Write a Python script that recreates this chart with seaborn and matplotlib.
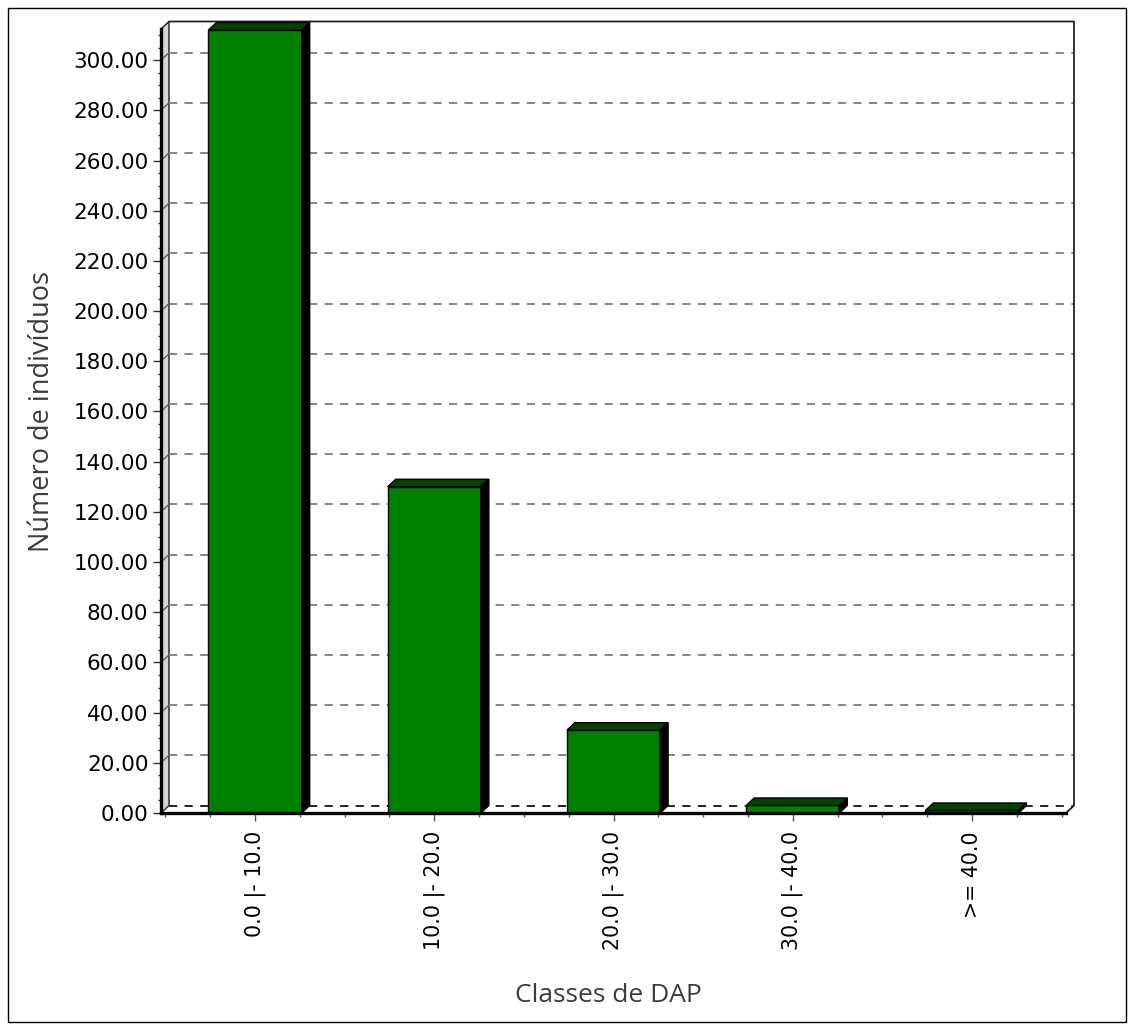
import numpy as np
import pandas as pd
import seaborn as sns
import matplotlib.pyplot as plt
from matplotlib.patches import Polygon, Rectangle
from matplotlib.lines import Line2D
from matplotlib.ticker import MultipleLocator, FixedLocator

# Diameter classes (DAP) and number of trees in each
classes = ["0.0 |- 10.0", "10.0 |- 20.0", "20.0 |- 30.0", "30.0 |- 40.0", ">= 40.0"]
individuos = [312, 130, 33, 3, 1]
y_ticks = list(range(0, 301, 20))
y_tick_labels = [f"{v:.2f}" for v in y_ticks]

sns.set_theme(style="white")
plt.rcParams["font.family"] = ["DejaVu Sans"]

W, H = 1134, 1030
fig = plt.figure(figsize=(W / 100, H / 100), dpi=100)
fig.patch.set_facecolor("white")

# front plane of the plot box, in pixels
left_px, right_px, top_px, bottom_px = 161, 1066, 29, 813
ax = fig.add_axes([left_px / W, (H - bottom_px) / H,
                   (right_px - left_px) / W, (bottom_px - top_px) / H])
ax.set_facecolor("none")

df = pd.DataFrame({"classe": classes, "n": individuos})
sns.barplot(data=df, x="classe", y="n", color="#008000", saturation=1,
            width=0.52, edgecolor="black", linewidth=1.0, ax=ax, zorder=6)
bars = list(ax.patches)

ymax = 312.4
xlo, xhi = -0.525, 4.525
ax.set_xlim(xlo, xhi)
ax.set_ylim(0, ymax)

# depth of the pseudo-3D box, in pixels
DX, DY = 8, 7.5


def back(x, y):
    d = ax.transData.transform((x, y))
    return tuple(ax.transData.inverted().transform((d[0] + DX, d[1] + DY)))


# left wall
wall = Polygon([(xlo, 0), (xlo, ymax), back(xlo, ymax), back(xlo, 0)],
               closed=True, facecolor="#d6d6d6", edgecolor="#1a1a1a",
               linewidth=1.0, clip_on=False, zorder=1)
ax.add_patch(wall)

# grid lines on the back wall, with a short link across the side wall
for v in y_ticks:
    b0 = back(xlo, v)
    b1 = back(xhi, v)
    ax.add_line(Line2D([xlo, b0[0]], [v, b0[1]], color="#555555",
                       linewidth=0.9, clip_on=False, zorder=2))
    ax.add_line(Line2D([b0[0], b1[0]], [b0[1], b1[1]],
                       color="#222222" if v == 0 else "#858585",
                       linewidth=1.4, linestyle=(0, (4.2, 3.8)),
                       clip_on=False, zorder=2))

# back frame: top edge, right edge, and lower right corner link
tl = back(xlo, ymax)
tr = back(xhi, ymax)
br = back(xhi, 0)
ax.add_line(Line2D([tl[0], tr[0], br[0], xhi], [tl[1], tr[1], br[1], 0],
                   color="#222222", linewidth=1.3, clip_on=False, zorder=2))

# depth faces of the bars
for p in bars:
    x0, w, h = p.get_x(), p.get_width(), p.get_height()
    top = Polygon([(x0, h), (x0 + w, h), back(x0 + w, h), back(x0, h)],
                  closed=True, facecolor="#004400", edgecolor="black",
                  linewidth=1.0, clip_on=False, zorder=7)
    side = Polygon([(x0 + w, 0), (x0 + w, h), back(x0 + w, h), back(x0 + w, 0)],
                   closed=True, facecolor="black", edgecolor="black",
                   linewidth=1.0, clip_on=False, zorder=7)
    ax.add_patch(top)
    ax.add_patch(side)

# spines
for s in ["top", "right"]:
    ax.spines[s].set_visible(False)
for s in ["left", "bottom"]:
    ax.spines[s].set_visible(True)
    ax.spines[s].set_color("black")
    ax.spines[s].set_linewidth(2.4)
    ax.spines[s].set_zorder(8)

# ticks
ax.set_yticks(y_ticks)
ax.set_yticklabels(y_tick_labels)
ax.yaxis.set_minor_locator(MultipleLocator(5))
ax.set_xticks(range(len(classes)))
ax.set_xticklabels(classes, rotation=90)
ax.xaxis.set_minor_locator(FixedLocator(np.arange(-0.5, 4.51, 0.25)))

ax.tick_params(axis="y", which="major", left=True, length=6, width=1.0,
               color="#333333", direction="out", pad=3,
               labelsize=15.5, labelcolor="black")
ax.tick_params(axis="y", which="minor", left=True, length=2.5, width=1.0,
               color="#333333", direction="out")
ax.tick_params(axis="x", which="major", bottom=True, length=6, width=1.0,
               color="#555555", direction="out", pad=7,
               labelsize=14.8, labelcolor="black")
ax.tick_params(axis="x", which="minor", bottom=True, length=3, width=1.0,
               color="#555555", direction="out")

# axis titles
ax.set_xlabel("Classes de DAP", fontsize=19, color="#3c3c3c",
              family=["Open Sans", "DejaVu Sans"])
ax.set_ylabel("Número de indivíduos", fontsize=19.5, color="#3c3c3c",
              family=["Open Sans", "DejaVu Sans"])
ax.xaxis.label.set_va("center")
ax.yaxis.label.set_va("center")
ax.xaxis.set_label_coords(608 / W, 1 - 995 / H, transform=fig.transFigure)
ax.yaxis.set_label_coords(42 / W, 1 - 412 / H, transform=fig.transFigure)

# outer frame around the whole chart
fig.patches.append(Rectangle((8 / W, 8 / H), 1118 / W, 1014 / H,
                             transform=fig.transFigure, fill=False,
                             edgecolor="black", linewidth=1.0))

fig.savefig("out.png", dpi=100)
